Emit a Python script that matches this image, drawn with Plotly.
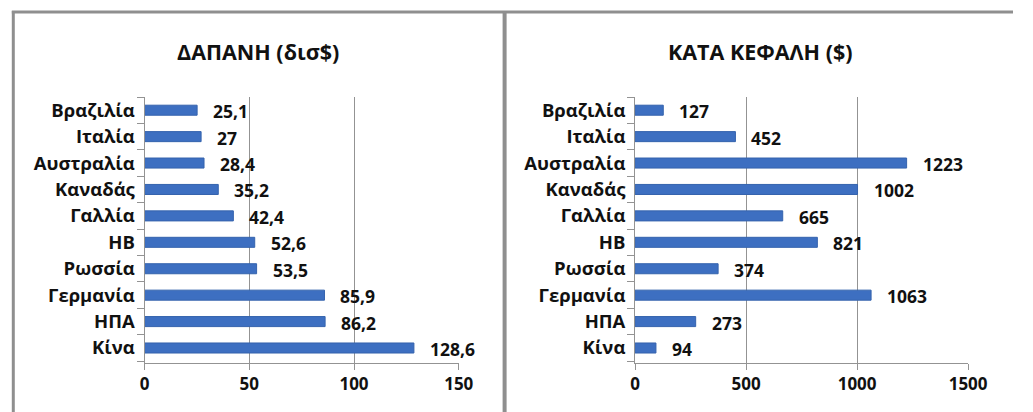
import plotly.graph_objects as go

# Categories listed bottom-to-top for the horizontal bar axes
countries = ["Κίνα", "ΗΠΑ", "Γερμανία", "Ρωσσία", "ΗΒ", "Γαλλία", "Καναδάς", "Αυστραλία", "Ιταλία", "Βραζιλία"]
spending_bn = [128.6, 86.2, 85.9, 53.5, 52.6, 42.4, 35.2, 28.4, 27, 25.1]
per_capita = [94, 273, 1063, 374, 821, 665, 1002, 1223, 452, 127]

title_left = "ΔΑΠΑΝΗ (δισ$)"
title_right = "ΚΑΤΑ ΚΕΦΑΛΗ ($)"

W, H = 1033, 412
FONT = "Open Sans"
BAR = "#3d6fc1"
GRID = "#939393"
INK = "#111111"


def px_x(v):
    return v / W


def px_y(v):
    return 1 - v / H


fig = go.Figure()

fig.add_trace(go.Bar(
    y=countries, x=spending_bn, orientation="h",
    marker=dict(color=BAR, line=dict(color="#3563ad", width=1)),
    xaxis="x", yaxis="y", hoverinfo="x+y",
))
fig.add_trace(go.Bar(
    y=countries, x=per_capita, orientation="h",
    marker=dict(color=BAR, line=dict(color="#3563ad", width=1)),
    xaxis="x2", yaxis="y2", hoverinfo="x+y",
))

# Value labels just past the end of each bar
for xa, ya, vals in (("x", "y", spending_bn), ("x2", "y2", per_capita)):
    for c, v in zip(countries, vals):
        fig.add_annotation(
            x=v, y=c, xref=xa, yref=ya, xanchor="left", yanchor="middle",
            xshift=14, yshift=-1, showarrow=False,
            text=(f"{v:g}".replace(".", ",")),
            font=dict(family=FONT, size=17.5, color=INK, weight="bold"),
        )

ydom = [px_y(363), px_y(97)]
axis_common = dict(
    showgrid=True, gridcolor=GRID, gridwidth=1,
    showline=True, linecolor=GRID, linewidth=1,
    ticks="outside", ticklen=6, tickcolor=GRID,
    tickfont=dict(family=FONT, size=17, color=INK, weight="bold"),
    zeroline=False, fixedrange=True,
)
cat_common = dict(
    showline=True, linecolor=GRID, linewidth=1,
    ticks="outside", ticklen=7, tickcolor=GRID, tickson="boundaries",
    tickfont=dict(family=FONT, size=18.5, color=INK, weight="bold"),
    ticklabelstandoff=5, fixedrange=True,
)

fig.update_layout(
    width=W, height=H, margin=dict(l=0, r=0, t=0, b=0),
    paper_bgcolor="white", plot_bgcolor="white",
    showlegend=False, bargap=0.62, separators=",.",
    xaxis=dict(domain=[px_x(143), px_x(465)], range=[0, 150], dtick=50,
               anchor="y", **axis_common),
    yaxis=dict(domain=ydom, anchor="x", **cat_common),
    xaxis2=dict(domain=[px_x(645.7), px_x(987)], range=[0, 1500], dtick=500,
                anchor="y2", **axis_common),
    yaxis2=dict(domain=ydom, anchor="x2", **cat_common),
)

# Titles
for txt, cx in ((title_left, 259), (title_right, 774)):
    fig.add_annotation(
        x=px_x(cx), y=px_y(52), xref="paper", yref="paper",
        xanchor="center", yanchor="middle", showarrow=False, text=txt,
        font=dict(family=FONT, size=21.5, color=INK, weight="bold"),
    )

# Panel frames
frame = dict(color="#8f8f8f", width=3)
fig.add_shape(type="line", xref="paper", yref="paper",
              x0=px_x(7), x1=1, y0=px_y(12), y1=px_y(12), line=frame)
fig.add_shape(type="line", xref="paper", yref="paper",
              x0=px_x(8.5), x1=px_x(8.5), y0=px_y(11), y1=0, line=frame)
fig.add_shape(type="line", xref="paper", yref="paper",
              x0=px_x(512), x1=px_x(512), y0=px_y(11), y1=0,
              line=dict(color="#8f8f8f", width=4))

fig.write_html("out.html")
